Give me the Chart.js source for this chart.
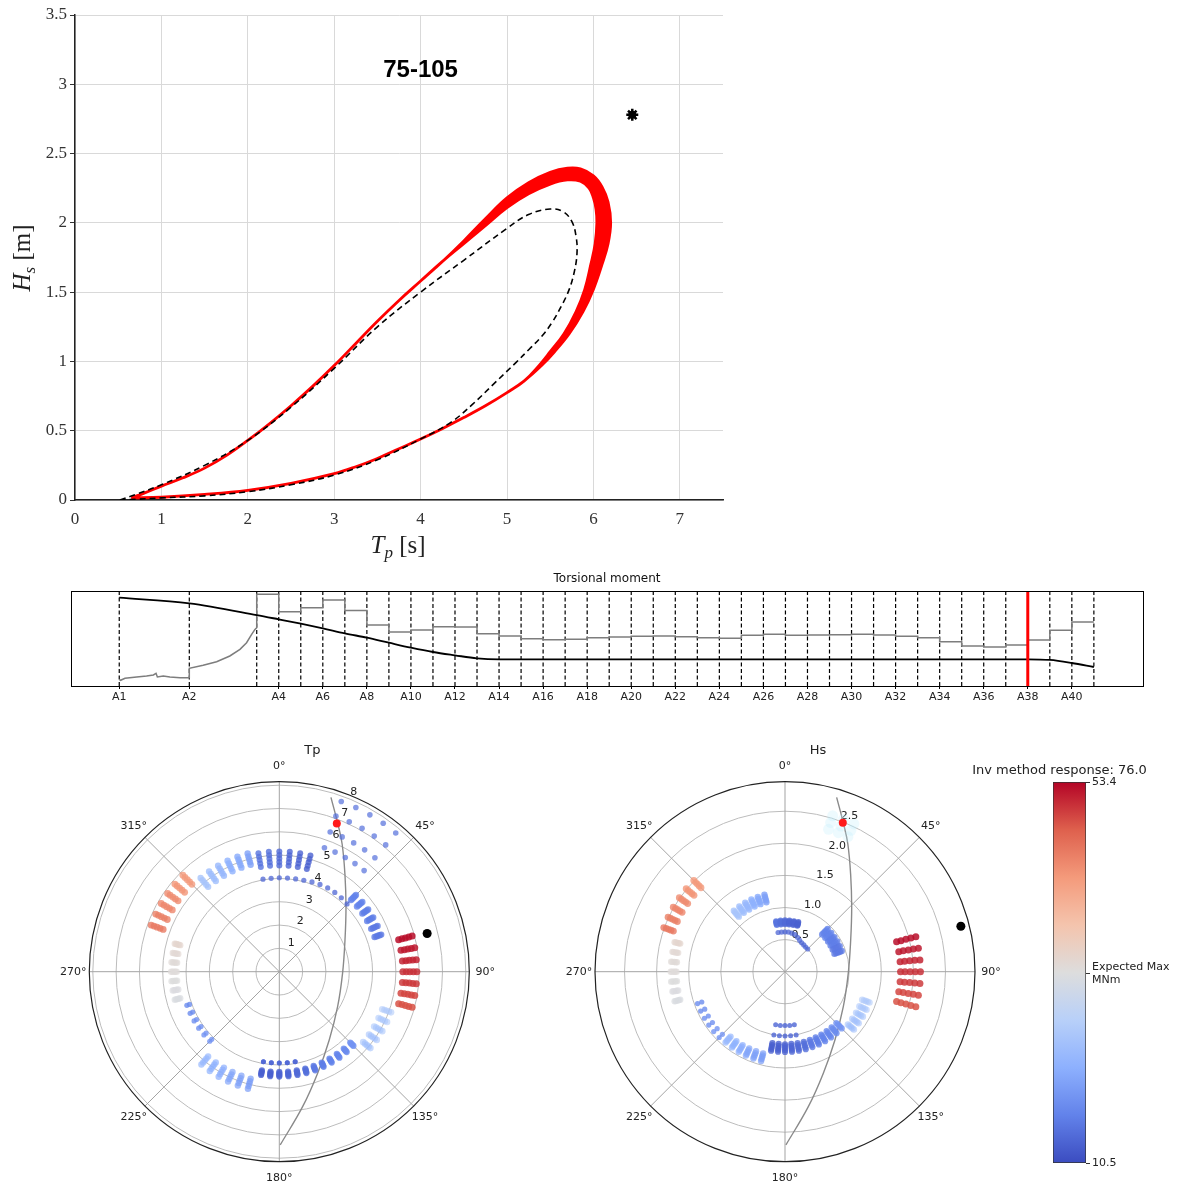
<!DOCTYPE html>
<html>
<head>
<meta charset="utf-8">
<script src="https://cdn.jsdelivr.net/npm/chart.js@4.4.0/dist/chart.umd.min.js"></script>
<style>
  html, body { margin: 0; padding: 0; background: #fff; }
  #wrap { position: relative; width: 1177px; height: 1184px; overflow: hidden; }
  canvas { position: absolute; }
</style>
</head>
<body>
<div id="wrap">
  <canvas id="contour" width="760" height="565" style="left:0px;top:0px"></canvas>
  <canvas id="strip" width="1177" height="150" style="left:0px;top:565px"></canvas>
  <canvas id="polTp" width="480" height="449" style="left:40px;top:735px"></canvas>
  <canvas id="polHs" width="480" height="449" style="left:546px;top:735px"></canvas>
  <canvas id="cbar" width="217" height="424" style="left:960px;top:760px"></canvas>
</div>
<script>
// ---------- contour panel ----------
const xTicks = [0, 1, 2, 3, 4, 5, 6, 7];
const yTicks = [0, 0.5, 1, 1.5, 2, 2.5, 3, 3.5];
const panelLabel = '75-105';
const outerTp = [0.65,0.8,1.0,1.25,1.5,1.75,2.0,2.25,2.5,2.75,3.0,3.25,3.5,3.75,4.0,4.25,4.5,4.75,5.0,5.25,5.5,5.7,5.85,6.0,6.1,6.17,6.2,6.17,6.1,6.0,5.88,5.72,5.55,5.4,5.2,5.0,4.75,4.5,4.25,4.0,3.75,3.5,3.25,3.0,2.5,2.0,1.5,1.0,0.65];
const outerHs = [0.015,0.05,0.10,0.16,0.23,0.32,0.43,0.55,0.68,0.82,0.97,1.13,1.29,1.44,1.58,1.72,1.87,2.03,2.18,2.29,2.365,2.395,2.39,2.34,2.26,2.15,2.0,1.85,1.7,1.52,1.36,1.2,1.07,0.97,0.86,0.775,0.68,0.595,0.515,0.44,0.37,0.30,0.24,0.19,0.12,0.07,0.04,0.02,0.015];
const innerTp = [0.65,0.8,1.0,1.25,1.5,1.75,2.0,2.25,2.5,2.75,3.0,3.25,3.5,3.75,4.0,4.25,4.5,4.75,5.0,5.25,5.5,5.7,5.85,5.95,6.0,6.03,6.04,6.02,5.97,5.9,5.8,5.66,5.5,5.37,5.2,5.0,4.75,4.5,4.25,4.0,3.75,3.5,3.25,3.0,2.5,2.0,1.5,1.0,0.65];
const innerHs = [0.015,0.05,0.10,0.16,0.23,0.32,0.43,0.55,0.68,0.82,0.97,1.13,1.29,1.44,1.58,1.72,1.85,1.98,2.11,2.21,2.28,2.31,2.30,2.25,2.18,2.1,2.0,1.85,1.7,1.52,1.36,1.2,1.07,0.97,0.86,0.775,0.68,0.595,0.515,0.44,0.37,0.30,0.24,0.19,0.12,0.07,0.04,0.02,0.015];
const dashTp = [0.52,0.7,1.0,1.5,2.0,2.5,3.0,3.5,4.0,4.5,5.0,5.25,5.5,5.65,5.75,5.8,5.81,5.78,5.72,5.63,5.52,5.4,5.26,5.1,4.85,4.6,4.35,4.0,3.5,3.0,2.5,2.0,1.5,1.0,0.7,0.52];
const dashHs = [0.0,0.04,0.11,0.25,0.43,0.67,0.95,1.25,1.5,1.73,1.96,2.06,2.1,2.08,2.01,1.9,1.78,1.65,1.52,1.4,1.28,1.18,1.09,0.99,0.84,0.69,0.56,0.44,0.29,0.18,0.11,0.06,0.03,0.015,0.005,0.0];
const designTp = 6.45, designHs = 2.78;

// ---------- torsional moment strip ----------
const stationNames = ['A1','A2','A3','A4','A5','A6','A7','A8','A9','A10','A11','A12','A13','A14','A15','A16','A17','A18','A19','A20','A21','A22','A23','A24','A25','A26','A27','A28','A29','A30','A31','A32','A33','A34','A35','A36','A37','A38','A39','A40','A41'];
const stationPos = [0,3.18,6.24,7.24,8.24,9.24,10.24,11.24,12.24,13.24,14.24,15.24,16.24,17.24,18.24,19.24,20.24,21.24,22.24,23.24,24.24,25.24,26.24,27.24,28.24,29.24,30.24,31.24,32.24,33.24,34.24,35.24,36.24,37.24,38.24,39.24,40.24,41.24,42.24,43.24,44.24];
const stripTickLabels = ['A1','A2','A4','A6','A8','A10','A12','A14','A16','A18','A20','A22','A24','A26','A28','A30','A32','A34','A36','A38','A40'];
const blackV = [93,87,74.7,70.2,65.6,60.7,55.4,50.9,45.6,40.4,35.8,32.3,29.1,28.1,28.1,28.1,28.1,28.1,28.1,28.1,28.1,28.1,28.1,28.1,28.1,28.1,28.1,28.1,28.1,28.1,28.1,28.1,28.1,28.1,28.1,28.1,28.1,28.1,27.4,24.2,20.0];
const grayStartU = [0,0.06,0.26,0.79,1.24,1.55,1.67,1.73,2.0,2.3,2.76,3.18,3.18,3.81,4.42,5.02,5.48,5.78,6.01,6.16,6.24];
const grayStartV = [7.0,6.0,8.1,9.5,10.5,11.6,13.3,9.5,10.5,9.5,8.8,8.8,18.6,21.8,25.6,31.6,38.6,45.6,54.4,59.6,61.4];
const grayStep = [96.5,78.2,82.5,90.5,79.6,64.2,56.8,58.9,62.5,62.2,55.1,52.6,49.8,48.8,49.1,50.9,51.6,52.3,52.6,51.9,50.9,50.2,53.3,54.4,53.3,53.7,54.0,54.4,53.7,52.3,50.9,46.7,42.1,41.1,43.2,48.5,58.8,67.4];
const markedStation = 'A38';

// ---------- polar panels ----------
const angleTicks = [0, 45, 90, 135, 180, 225, 270, 315];
const tpRings = [1, 2, 3, 4, 5, 6, 7, 8];
const hsRings = [0.5, 1.0, 1.5, 2.0, 2.5];
const tpMax = 8.15, hsMax = 2.96;
const trackDir = [16.5, 21.5, 26.2, 34.2, 46.0, 64.2, 91.5, 121.0, 143.8, 159.4, 170.2, 179.7];
const trackFrac = [0.957, 0.839, 0.749, 0.615, 0.488, 0.384, 0.333, 0.358, 0.445, 0.572, 0.721, 0.912];
const redDot = { dir: 21.2, tp: 6.82, hs: 2.49 };
const blackDot = { dir: 75.5, tp: 6.55, hs: 2.83 };

const dirRed = [75, 80, 85, 90, 95, 100, 105];
const tpRed = [5.3, 5.45, 5.6, 5.75, 5.9];
const hsRed = [2.11, 2.03, 1.95, 1.87, 1.8];
const valRed = [52.8, 52.2, 51.5, 50.8, 50.2, 49.5, 48.8];

const dirOrange = [290, 295, 300, 305, 310, 315];
const tpOrange = [5.3, 5.44, 5.58, 5.72, 5.85];
const hsOrange = [1.85, 1.89, 1.93, 1.97, 2.01];
const valOrange = [45.5, 45, 44.5, 44, 43, 42.5];

const dirPale = [255, 260, 265, 270, 275, 280, 285];
const tpPale = [4.4, 4.46, 4.52, 4.58, 4.64];
const hsPale = [1.69, 1.71, 1.73, 1.76, 1.78];
const valPale = [31.3, 31.6, 32, 32.3, 32.6, 33, 33.5];

const dirUpLeft = [320, 325, 330, 335, 340, 345];
const tpUpLeft = [4.75, 4.87, 5.0, 5.12, 5.25];
const hsUpLeft = [1.12, 1.15, 1.18, 1.21, 1.24];
const valUpLeft = [24.5, 23.5, 22.5, 21.5, 20.5, 19.5];

const dirTop = [350, 355, 0, 5, 10, 15];
const tpTop = [4.56, 4.71, 4.86, 5.01, 5.16];
const hsTop = [0.74, 0.755, 0.77, 0.785, 0.8];
const valTop = [14.5, 14, 13.5, 13, 12.8, 12.5];

const dirRing = [350, 355, 0, 5, 10, 15, 20, 25, 30, 35, 40, 45];
const tpRing = [4.03, 4.02, 4.03, 4.03, 4.04, 4.06, 4.1, 4.13, 4.15, 4.15, 4.14, 4.11];
const hsRing = [0.62, 0.62, 0.62, 0.62, 0.61, 0.6, 0.57, 0.54, 0.52, 0.51, 0.5, 0.5];
const valRing = 13;

const dirSparse = [20, 25, 30, 35, 40];
const tpSparse = [5.66, 6.38, 7.1, 7.77];
const valSparse = 14;

const dirUpRight = [45, 50, 55, 60, 65, 70];
const tpUpRight = [4.35, 4.43, 4.5, 4.58, 4.65];
const hsUpRight = [0.82, 0.85, 0.88, 0.91, 0.94];
const valUpRight = [16, 16, 15.5, 15.5, 15, 15];

const dirLowRight = [110, 115, 120, 125, 130];
const tpLowRight = [4.7, 4.8, 4.9, 5.0, 5.1];
const hsLowRight = [1.28, 1.31, 1.34, 1.37, 1.4];
const valLowRight = [25, 24.5, 24, 23.5, 23];

const dirBottom = [135, 140, 145, 150, 155, 160, 165, 170, 175, 180, 185, 190];
const tpBottom = [4.3, 4.35, 4.4, 4.45, 4.5];
const hsBottom = [1.13, 1.16, 1.19, 1.22, 1.25];
const valBottom = [18, 17, 16.5, 16, 15.5, 15, 14, 13.5, 13, 12.8, 12.5, 12.5];

const dirBottomDots = [170, 175, 180, 185, 190];
const tpBottomDots = [3.92, 3.92];
const hsBottomDots = [0.84, 1.0];
const valBottomDots = 13;

const dirLowLeft = [195, 200, 205, 210, 215, 220];
const tpLowLeft = [4.75, 4.86, 4.97, 5.08, 5.2];
const hsLowLeft = [1.32, 1.35, 1.38, 1.41, 1.44];
const valLowLeft = [19, 19.5, 20, 21, 21.5, 22.5];

const dirLowLeftDots = [225, 230, 235, 240, 245, 250];
const tpLowLeftDots = [4.1, 4.22];
const hsLowLeftDots = [1.38, 1.45];
const valLowLeftDots = [18, 18, 17.5, 17.5, 17, 17];

const hsPatchDirs = [17, 21, 25];
const hsPatchVals = [2.32, 2.43, 2.54];

// ---------- colour bar ----------
const cbMin = 10.5, cbMax = 53.4;
const cbTicks = [10.5, 31.8, 53.4];
const cbTickLabels = ['10.5', ['Expected Max', 'MNm'], '53.4'];
const cbTitle = 'Inv method response: 76.0';

// coolwarm colormap
const cwStops = [[0,59,76,192],[0.125,98,130,234],[0.25,141,176,254],[0.375,184,208,249],[0.5,221,221,221],[0.625,244,196,173],[0.75,244,154,123],[0.875,222,96,77],[1,180,4,38]];
function coolwarm(v, a) {
  let t = (v - cbMin) / (cbMax - cbMin);
  t = Math.max(0, Math.min(1, t));
  for (let i = 1; i < cwStops.length; i++) {
    if (t <= cwStops[i][0]) {
      const s0 = cwStops[i - 1], s1 = cwStops[i];
      const f = (t - s0[0]) / (s1[0] - s0[0]);
      const c = [1, 2, 3].map(k => Math.round(s0[k] + (s1[k] - s0[k]) * f));
      return 'rgba(' + c[0] + ',' + c[1] + ',' + c[2] + ',' + a + ')';
    }
  }
}

const deg = Math.PI / 180;
const common = { responsive: false, animation: false, events: [] };
const noLegend = { legend: { display: false }, tooltip: { enabled: false } };

// ================= contour chart =================
function drawRuns(ctx, runs, x, y) {
  let w = 0;
  runs.forEach(r => { ctx.font = r.font; w += ctx.measureText(r.t).width; });
  let cx = x - w / 2;
  runs.forEach(r => { ctx.font = r.font; ctx.fillText(r.t, cx, y + (r.dy || 0)); cx += ctx.measureText(r.t).width; });
}

const contourText = {
  id: 'contourText',
  afterDatasetsDraw(chart) {
    const { ctx, scales: { x, y } } = chart;
    ctx.save();
    ctx.fillStyle = '#000';
    ctx.textAlign = 'center';
    ctx.textBaseline = 'middle';
    ctx.font = 'bold 24px "Liberation Sans"';
    ctx.fillText(panelLabel, x.getPixelForValue(4.0), y.getPixelForValue(3.1));
    ctx.textAlign = 'left';
    ctx.textBaseline = 'alphabetic';
    ctx.fillStyle = '#222';
    drawRuns(ctx, [
      { t: 'T', font: 'italic 25px "Liberation Serif"' },
      { t: 'p', font: 'italic 17px "Liberation Serif"', dy: 5 },
      { t: ' [s]', font: '25px "Liberation Serif"' }
    ], 398, 553);
    ctx.translate(22, 258);
    ctx.rotate(-Math.PI / 2);
    drawRuns(ctx, [
      { t: 'H', font: 'italic 25px "Liberation Serif"' },
      { t: 's', font: 'italic 17px "Liberation Serif"', dy: 5 },
      { t: ' [m]', font: '25px "Liberation Serif"' }
    ], 0, 8);
    ctx.restore();
  }
};

const bandPts = outerTp.map((t, i) => ({ x: t, y: outerHs[i] }))
  .concat(innerTp.map((t, i) => ({ x: t, y: innerHs[i] })).reverse());

new Chart(document.getElementById('contour'), {
  type: 'scatter',
  data: {
    datasets: [
      // first dataset is drawn on top
      { data: [{ x: designTp, y: designHs }], pointStyle: 'star', pointRadius: 6, borderColor: '#000',
        pointBorderWidth: 2.5, pointBackgroundColor: '#000' },
      { data: [{ x: designTp, y: designHs }], pointRadius: 4, pointBackgroundColor: '#000', pointBorderWidth: 0 },
      { data: dashTp.map((t, i) => ({ x: t, y: dashHs[i] })), showLine: true, pointRadius: 0,
        borderColor: '#000', borderWidth: 1.6, borderDash: [6, 4], tension: 0.4 },
      { data: bandPts, showLine: true, pointRadius: 0, borderColor: '#ff0000', borderWidth: 2.8,
        backgroundColor: '#ff0000', fill: 'shape', tension: 0.4 }
    ]
  },
  options: Object.assign({}, common, {
    layout: { padding: { left: 0, right: 37, top: 15, bottom: 0 } },
    plugins: noLegend,
    scales: {
      x: {
        type: 'linear', min: 0, max: 7.5,
        afterBuildTicks: s => { s.ticks = xTicks.map(v => ({ value: v })); },
        afterFit: s => { s.height = 65; },
        grid: { color: '#d9d9d9', drawTicks: false },
        border: { color: '#222', width: 1.5 },
        ticks: { padding: 9, color: '#333', font: { family: 'Liberation Serif', size: 17 }, callback: v => String(v) }
      },
      y: {
        type: 'linear', min: 0, max: 3.5,
        afterBuildTicks: s => { s.ticks = yTicks.map(v => ({ value: v })); },
        afterFit: s => { s.width = 75; },
        grid: { color: '#d9d9d9', tickLength: 5, tickColor: '#333' },
        border: { color: '#222', width: 1.5 },
        ticks: { padding: 3, color: '#333', font: { family: 'Liberation Serif', size: 17 }, callback: v => String(v) }
      }
    }
  }),
  plugins: [contourText]
});

// ================= strip chart =================
const stripFrame = {
  id: 'stripFrame',
  afterDraw(chart) {
    const { ctx, chartArea: a } = chart;
    ctx.save();
    ctx.strokeStyle = '#000';
    ctx.lineWidth = 1;
    ctx.strokeRect(a.left + 0.5, a.top + 0.5, a.width, a.height);
    ctx.fillStyle = '#111';
    ctx.font = '12px "DejaVu Sans"';
    ctx.textAlign = 'center';
    ctx.textBaseline = 'middle';
    ctx.fillText('Torsional moment', (a.left + a.right) / 2, 14);
    ctx.restore();
  }
};

const dashedStations = [];
stationPos.forEach(s => { dashedStations.push({ x: s, y: 0 }, { x: s, y: 100 }, { x: s, y: null }); });
const grayPts = grayStartU.map((u, i) => ({ x: u, y: grayStartV[i] }));
grayStep.forEach((v, k) => { grayPts.push({ x: stationPos[k + 2], y: v }, { x: stationPos[k + 3], y: v }); });
const markPos = stationPos[stationNames.indexOf(markedStation)];

new Chart(document.getElementById('strip'), {
  type: 'scatter',
  data: {
    datasets: [
      { data: [{ x: markPos, y: 0 }, { x: markPos, y: 100 }], showLine: true, pointRadius: 0, borderColor: '#ff0000', borderWidth: 3 },
      { data: stationPos.map((s, i) => ({ x: s, y: blackV[i] })), showLine: true, pointRadius: 0,
        borderColor: '#000', borderWidth: 1.8, cubicInterpolationMode: 'monotone' },
      { data: grayPts, showLine: true, pointRadius: 0, borderColor: '#7d7d7d', borderWidth: 1.5 },
      { data: dashedStations, showLine: true, pointRadius: 0, borderColor: '#000', borderWidth: 1.2, borderDash: [4, 2.5], spanGaps: false }
    ]
  },
  options: Object.assign({}, common, {
    layout: { padding: { left: 71, right: 34, top: 26, bottom: 0 } },
    plugins: noLegend,
    scales: {
      x: {
        type: 'linear', min: -2.19, max: 46.47,
        afterBuildTicks: s => { s.ticks = stripTickLabels.map(n => ({ value: stationPos[stationNames.indexOf(n)] })); },
        afterFit: s => { s.height = 29; },
        grid: { drawOnChartArea: false, tickLength: 3, color: '#000' },
        border: { display: false },
        ticks: { autoSkip: false, maxRotation: 0, padding: 2, color: '#222', font: { family: 'DejaVu Sans', size: 11 },
                 callback: (v, i) => stripTickLabels[i] }
      },
      y: { display: false, min: 0, max: 100 }
    }
  }),
  plugins: [stripFrame]
});

// ================= polar charts =================
function polarPt(dir, r) { return { x: r * Math.sin(dir * deg), y: r * Math.cos(dir * deg) }; }

const clusters = [
  { dirs: dirRed, tp: tpRed, hs: hsRed, val: valRed, size: 3.5, alpha: 0.85 },
  { dirs: dirOrange, tp: tpOrange, hs: hsOrange, val: valOrange, size: 3.4, alpha: 0.8 },
  { dirs: dirPale, tp: tpPale, hs: hsPale, val: valPale, size: 3.2, alpha: 0.7 },
  { dirs: dirUpLeft, tp: tpUpLeft, hs: hsUpLeft, val: valUpLeft, size: 3.2, alpha: 0.8 },
  { dirs: dirTop, tp: tpTop, hs: hsTop, val: valTop, size: 3.0, alpha: 0.8 },
  { dirs: dirRing, tp: tpRing, hs: hsRing, val: dirRing.map(() => valRing), size: 2.6, alpha: 0.75, paired: true },
  { dirs: dirSparse, tp: tpSparse, hs: null, val: dirSparse.map(() => valSparse), size: 2.8, alpha: 0.7 },
  { dirs: dirUpRight, tp: tpUpRight, hs: hsUpRight, val: valUpRight, size: 3.2, alpha: 0.8 },
  { dirs: dirLowRight, tp: tpLowRight, hs: hsLowRight, val: valLowRight, size: 3.3, alpha: 0.55 },
  { dirs: dirBottom, tp: tpBottom, hs: hsBottom, val: valBottom, size: 3.1, alpha: 0.8 },
  { dirs: dirBottomDots, tp: tpBottomDots, hs: hsBottomDots, val: dirBottomDots.map(() => valBottomDots), size: 2.5, alpha: 0.8 },
  { dirs: dirLowLeft, tp: tpLowLeft, hs: hsLowLeft, val: valLowLeft, size: 3.2, alpha: 0.7 },
  { dirs: dirLowLeftDots, tp: tpLowLeftDots, hs: hsLowLeftDots, val: valLowLeftDots, size: 2.6, alpha: 0.8 }
];

function clusterSets(key) {
  const out = [];
  clusters.forEach(c => {
    const radii = c[key];
    if (!radii) return;
    const data = [], colors = [];
    c.dirs.forEach((d, i) => {
      const list = c.paired ? [radii[i]] : radii;
      list.forEach(r => { data.push(polarPt(d, r)); colors.push(coolwarm(c.val[i], c.alpha)); });
    });
    out.push({ data, pointBackgroundColor: colors, pointBorderWidth: 0, pointRadius: c.size });
  });
  return out;
}

function polarFrame(o) {
  return {
    id: 'polarFrame',
    beforeDatasetsDraw(chart) {
      const { ctx, scales: { x, y } } = chart;
      const cx = x.getPixelForValue(0), cy = y.getPixelForValue(0);
      const R = x.getPixelForValue(o.rmax) - cx;
      ctx.save();
      ctx.lineWidth = 1;
      ctx.strokeStyle = '#bcbcbc';
      o.rings.forEach(r => {
        ctx.beginPath();
        ctx.arc(cx, cy, x.getPixelForValue(r) - cx, 0, 2 * Math.PI);
        ctx.stroke();
      });
      ctx.strokeStyle = '#a3a3a3';
      angleTicks.forEach(a => {
        ctx.beginPath();
        ctx.moveTo(cx, cy);
        ctx.lineTo(cx + R * Math.sin(a * deg), cy - R * Math.cos(a * deg));
        ctx.stroke();
      });
      ctx.fillStyle = '#222';
      ctx.font = '11px "DejaVu Sans"';
      ctx.textAlign = 'center';
      ctx.textBaseline = 'middle';
      o.rings.forEach((r, i) => {
        const rp = x.getPixelForValue(r) - cx + 8;
        ctx.fillText(o.ringLabels[i], cx + rp * Math.sin(22.5 * deg), cy - rp * Math.cos(22.5 * deg));
      });
      ctx.restore();
    },
    afterDraw(chart) {
      const { ctx, scales: { x, y } } = chart;
      const cx = x.getPixelForValue(0), cy = y.getPixelForValue(0);
      const R = x.getPixelForValue(o.rmax) - cx;
      ctx.save();
      ctx.strokeStyle = '#222';
      ctx.lineWidth = 1.2;
      ctx.beginPath();
      ctx.arc(cx, cy, R, 0, 2 * Math.PI);
      ctx.stroke();
      ctx.fillStyle = '#222';
      ctx.font = '11px "DejaVu Sans"';
      ctx.textAlign = 'center';
      ctx.textBaseline = 'middle';
      angleTicks.forEach(a => {
        const rr = R + 16;
        ctx.fillText(a + '°', cx + rr * Math.sin(a * deg), cy - rr * Math.cos(a * deg));
      });
      ctx.font = '13px "DejaVu Sans"';
      ctx.fillText(o.title, cx + 33, cy - R - 31);
      ctx.restore();
    }
  };
}

function makePolar(id, key, rmax, rings, ringLabels, title, extra, pad) {
  const sets = [
    { data: [polarPt(redDot.dir, redDot[key])], pointRadius: 4, pointBackgroundColor: '#ff1a1a', pointBorderWidth: 0 },
    { data: [polarPt(blackDot.dir, blackDot[key])], pointRadius: 4.5, pointBackgroundColor: '#000', pointBorderWidth: 0 }
  ].concat(clusterSets(key)).concat(extra).concat([
    { data: trackDir.map((d, i) => polarPt(d, trackFrac[i] * rmax)), showLine: true, pointRadius: 0,
      borderColor: '#8a8a8a', borderWidth: 1.4, tension: 0.4 }
  ]);
  new Chart(document.getElementById(id), {
    type: 'scatter',
    data: { datasets: sets },
    options: Object.assign({}, common, {
      layout: { padding: pad },
      plugins: noLegend,
      scales: {
        x: { type: 'linear', display: false, min: -rmax, max: rmax },
        y: { type: 'linear', display: false, min: -rmax, max: rmax }
      }
    }),
    plugins: [polarFrame({ rmax, rings, ringLabels, title })]
  });
}

makePolar('polTp', 'tp', tpMax, tpRings, tpRings.map(String), 'Tp', [],
  { left: 49.3, right: 50.7, top: 46.7, bottom: 22.3 });

const hsPatch = [];
hsPatchDirs.forEach(d => hsPatchVals.forEach(h => hsPatch.push(polarPt(d, h))));
makePolar('polHs', 'hs', hsMax, hsRings, hsRings.map(v => v.toFixed(1)), 'Hs',
  [{ data: hsPatch, pointRadius: 5.5, pointBackgroundColor: 'rgba(190,236,250,0.28)', pointBorderWidth: 0 }],
  { left: 49, right: 51, top: 46.7, bottom: 22.3 });

// ================= colour bar =================
const cbarTitle = {
  id: 'cbarTitle',
  afterDraw(chart) {
    const { ctx, chartArea: a } = chart;
    ctx.save();
    ctx.fillStyle = '#222';
    ctx.font = '13px "DejaVu Sans"';
    ctx.textAlign = 'center';
    ctx.textBaseline = 'middle';
    ctx.fillText(cbTitle, (a.left + a.right) / 2 - 10, a.top - 11);
    ctx.restore();
  }
};

new Chart(document.getElementById('cbar'), {
  type: 'bar',
  data: {
    labels: [''],
    datasets: [{
      data: [[cbMin, cbMax]],
      backgroundColor: c => {
        const { ctx, chartArea } = c.chart;
        if (!chartArea) return '#ccc';
        const g = ctx.createLinearGradient(0, chartArea.bottom, 0, chartArea.top);
        cwStops.forEach(s => g.addColorStop(s[0], 'rgb(' + s[1] + ',' + s[2] + ',' + s[3] + ')'));
        return g;
      },
      borderColor: '#333', borderWidth: 1, borderSkipped: false,
      barPercentage: 1, categoryPercentage: 1
    }]
  },
  options: Object.assign({}, common, {
    layout: { padding: { left: 93, right: 0, top: 22, bottom: 21 } },
    plugins: noLegend,
    scales: {
      x: { display: false },
      y: {
        position: 'right', min: cbMin, max: cbMax,
        afterBuildTicks: s => { s.ticks = cbTicks.map(v => ({ value: v })); },
        afterFit: s => { s.width = 91; },
        grid: { drawOnChartArea: false, tickLength: 4, color: '#333' },
        border: { display: false },
        ticks: { padding: 2, color: '#222', font: { family: 'DejaVu Sans', size: 11 }, callback: (v, i) => cbTickLabels[i] }
      }
    }
  }),
  plugins: [cbarTitle]
});
</script>
</body>
</html>
